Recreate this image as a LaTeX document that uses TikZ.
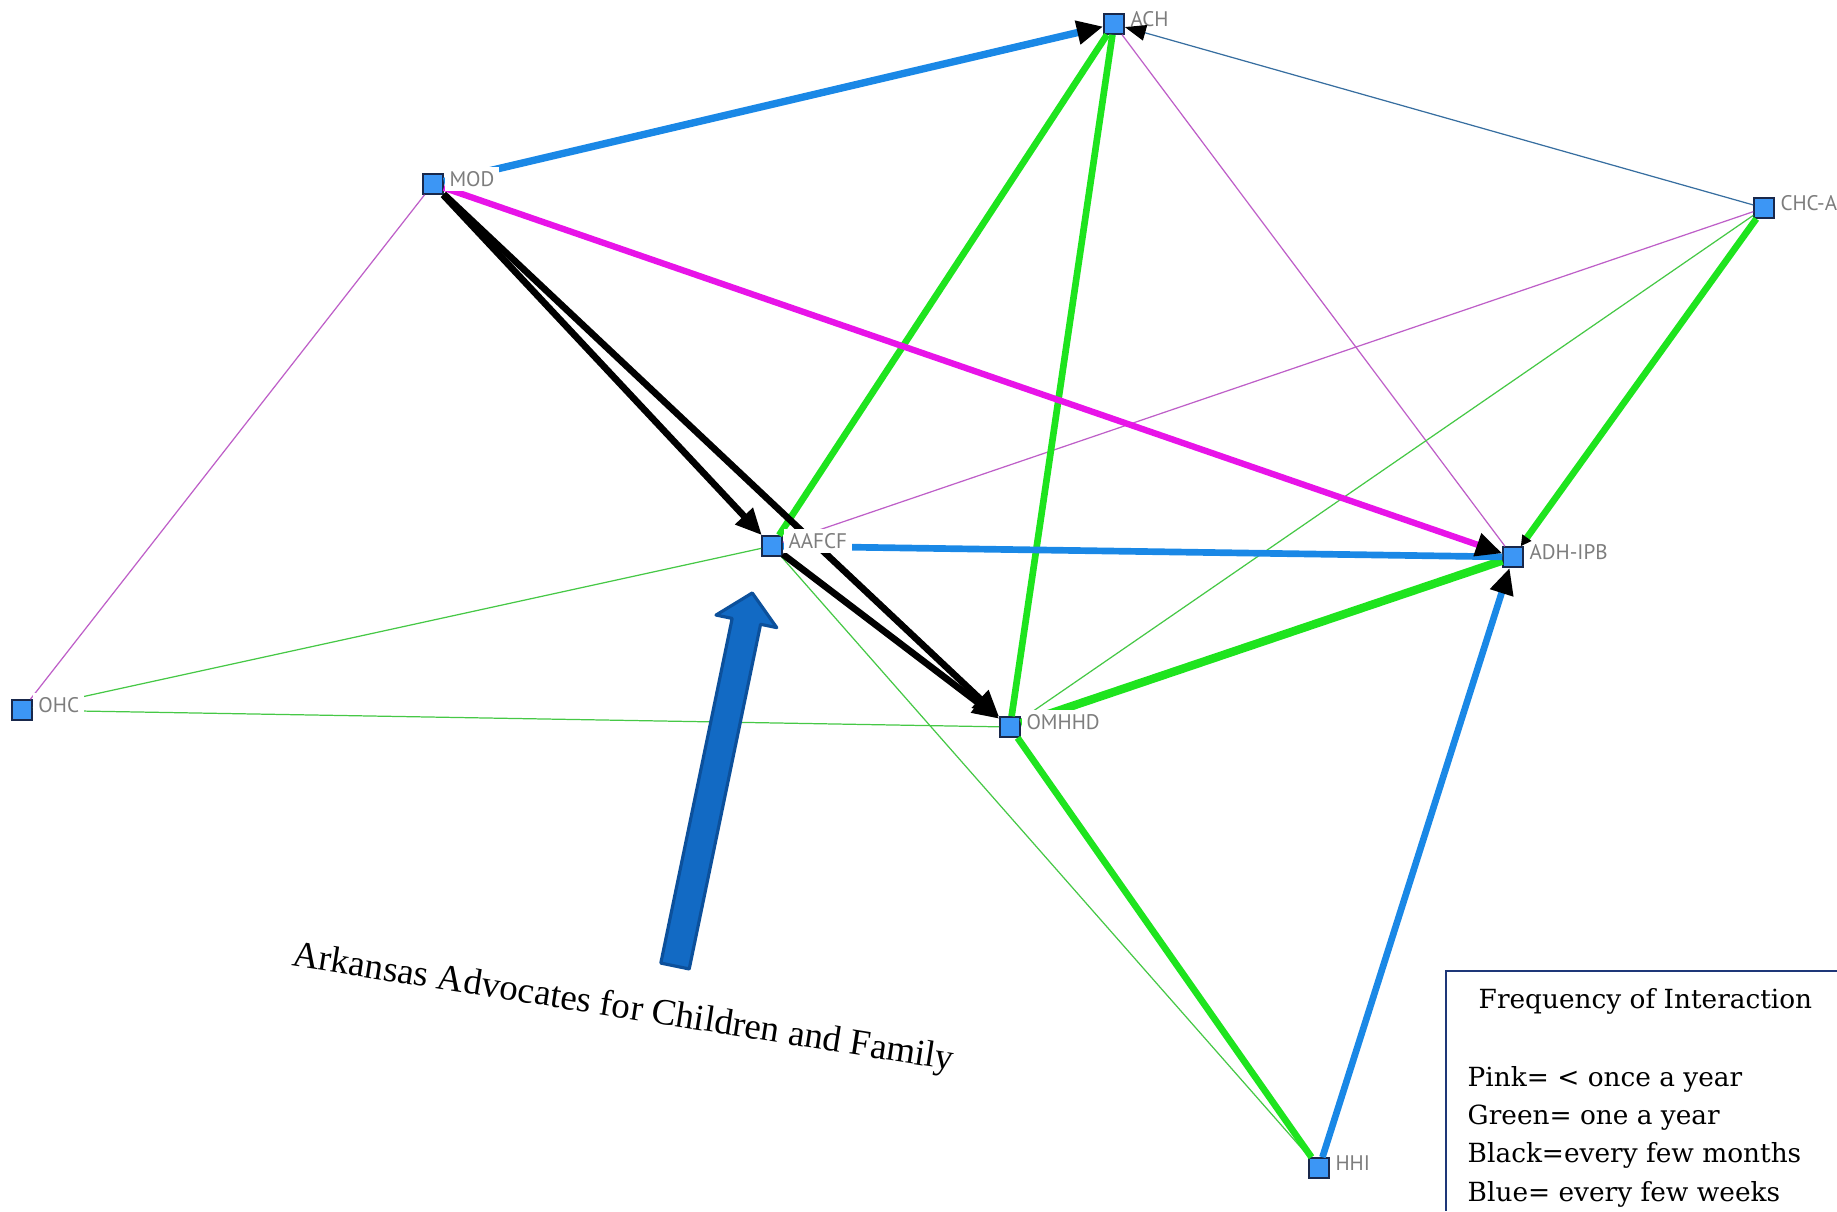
\documentclass[tikz,border=0pt]{standalone}
\usepackage{fontspec}
\setmainfont{Liberation Serif}
\newfontfamily\orgfont{PT Sans}
\newfontfamily\keyfont{DejaVu Serif}
\usetikzlibrary{arrows.meta,positioning}
\definecolor{netblue}{RGB}{26,136,230}
\definecolor{netgreen}{RGB}{30,228,30}
\definecolor{netpink}{RGB}{232,20,232}
\definecolor{thinpink}{RGB}{190,95,200}
\definecolor{thingreen}{RGB}{70,200,70}
\definecolor{thinblue}{RGB}{55,110,160}
\definecolor{boxblue}{RGB}{60,150,245}
\definecolor{boxedge}{RGB}{25,40,75}
\definecolor{lblgray}{RGB}{125,125,125}
\definecolor{bigfill}{RGB}{18,106,196}
\definecolor{bigedge}{RGB}{12,80,155}
\definecolor{keyedge}{RGB}{30,55,120}
\begin{document}
\begin{tikzpicture}[>={Triangle[length=7.5pt,width=6.5pt,color=black]},
		org/.style={draw=boxedge,fill=boxblue,minimum size=0.2cm,inner sep=0pt,line width=0.45pt},
		lbl/.style={right=0pt of #1,yshift=0.05cm,font=\orgfont\fontsize{6}{7}\selectfont,text=lblgray,fill=white,inner xsep=0.05cm,inner ysep=0.04cm},
		heavy/.style={line width=1.9pt},
		faint/.style={line width=0.35pt}]
			\useasboundingbox (0,0) rectangle (18.37,12.11);
			\node[org] (ach) at (11.14,11.87) {};
			\node[org] (mod) at (4.33,10.27) {};
			\node[org] (aafcf) at (7.72,6.65) {};
			\node[org] (omhhd) at (10.10,4.84) {};
			\node[org] (adh) at (15.13,6.54) {};
			\node[org] (chca) at (17.64,10.03) {};
			\node[org] (ohc) at (0.22,5.01) {};
			\node[org] (hhi) at (13.19,0.43) {};
			\draw[faint, thinpink] (ach) -- (adh);
			\draw[faint, thinpink] (aafcf) -- (chca);
			\draw[faint, thinpink] (mod) -- (ohc);
			\draw[faint, thingreen] (omhhd) -- (chca);
			\draw[faint, thingreen] (aafcf) -- (ohc);
			\draw[faint, thingreen] (ohc) -- (omhhd);
			\draw[faint, thingreen] (aafcf) -- (hhi);
			\draw[heavy, netgreen] (aafcf) -- (ach);
			\draw[heavy, netgreen] (omhhd) -- (ach);
			\draw[heavy, netgreen, line width=2.4pt] (omhhd) -- (adh);
			\draw[heavy, netgreen] (omhhd) -- (hhi);
			\draw[heavy, netblue] (aafcf) -- (adh);
			\draw[heavy, netblue, ->] (hhi) -- (adh);
			\draw[heavy, netpink, line width=1.8pt, ->] (mod) -- (adh);
			\draw[heavy, black, ->] (mod) -- (aafcf);
			\draw[heavy, black, ->] (mod) -- (omhhd);
			\draw[heavy, black, ->] (aafcf) -- (omhhd);
			\draw[heavy, netblue, line width=2.1pt, ->] (mod) -- (ach);
			\node[lbl=ach] (achname) {ACH};
			\node[lbl=mod] (modname) {MOD};
			\node[lbl=aafcf] (aafcfname) {AAFCF};
			\node[lbl=omhhd] (omhhdname) {OMHHD};
			\node[lbl=adh] (adhname) {ADH-IPB};
			\node[lbl=chca] (chcaname) {CHC-A};
			\node[lbl=ohc] (ohcname) {OHC};
			\node[lbl=hhi] (hhiname) {HHI};
			\draw[faint, thinblue, -{Triangle[length=6pt,width=4.5pt,color=black]}] (chca) -- (ach);
			\draw[heavy, netgreen, -{Triangle[length=3pt,width=3pt,color=black]}] (chca) -- (adh);
			\draw[fill=bigfill, draw=bigedge, line width=0.9pt, line join=round, shift={(6.75,2.45)}, rotate=78.3] (0,-0.145) -- (3.52,-0.145) -- (3.52,-0.31) -- (3.81,0) -- (3.52,0.31) -- (3.52,0.145) -- (0,0.145) -- cycle;
			\node[rotate=-9, font=\fontsize{10.5}{12}\selectfont] (note) at (6.23,2.02) {Arkansas Advocates for Children and Family};
			\draw[keyedge, line width=0.7pt] (18.37,2.40) -| (14.46,0);
			\node[anchor=base west, align=left, inner sep=0pt, font=\keyfont\fontsize{7.5}{10.9}\selectfont] (key) at (14.67,0.10) {\hspace{0.11cm}Frequency of Interaction\\[0.39cm]Pink= < once a year\\Green= one a year\\Black=every few months\\Blue= every few weeks};
\end{tikzpicture}
\end{document}
